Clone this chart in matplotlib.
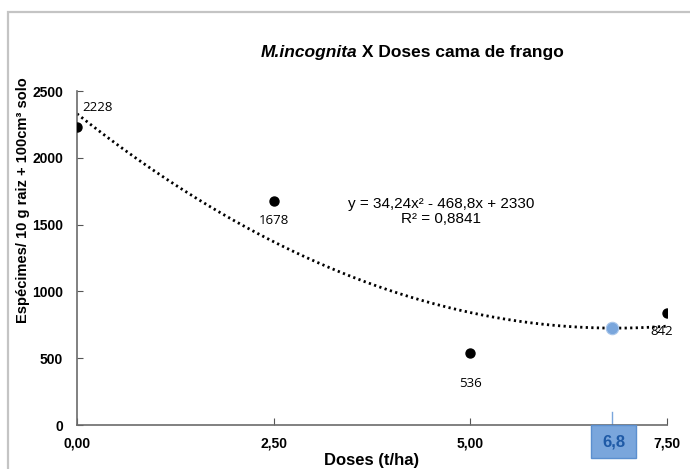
import matplotlib
matplotlib.use("Agg")
import matplotlib.pyplot as plt
import matplotlib.transforms as mtransforms
from matplotlib.patches import Rectangle
import numpy as np

plt.rcParams.update({
    "font.family": ["Liberation Sans", "DejaVu Sans"],
    "figure.facecolor": "white",
})

# ── 数据 ──
doses = [0.0, 2.5, 5.0, 7.5]
counts = [2228, 1678, 536, 842]
point_labels = ["2228", "1678", "536", "842"]
xtick_vals = [0.0, 2.5, 5.0, 7.5]
xtick_labels = ["0,00", "2,50", "5,00", "7,50"]
ytick_vals = [0, 500, 1000, 1500, 2000, 2500]

# 趋势线 y = 34,24x² - 468,8x + 2330
coef = [34.24, -468.8, 2330]
highlight_x = 6.8

fig = plt.figure(figsize=(6.9, 4.69), dpi=100)
ax = fig.add_axes([0.1116, 0.0938, 0.855, 0.712])

# 外框
fig.patches.append(Rectangle((8 / 690, -0.02), 1.0, 1 - 12 / 469 + 0.02,
                             transform=fig.transFigure, fill=False,
                             edgecolor="#c4c4c4", linewidth=1.6))

xs = np.linspace(0, 7.5, 200)
ax.plot(xs, np.polyval(coef, xs), color="black", linewidth=2,
        linestyle=(0, (0.8, 1.2)), zorder=2)

ax.scatter(doses, counts, s=42, color="black", zorder=3)
ax.scatter([highlight_x], [np.polyval(coef, highlight_x)], s=80,
           color="#7aa6dc", edgecolor="#a9c6ea", linewidth=0.8, zorder=4)

# 数据标签
offsets = [(4, 14), (0, -14), (0, -22), (-4, -14)]
has = ["left", "center", "center", "center"]
for x, y, lab, off, ha in zip(doses, counts, point_labels, offsets, has):
    ax.annotate(lab, (x, y), xytext=off, textcoords="offset points",
                ha=ha, va="center", fontsize=9.5, family="Open Sans")

ax.text(0.617, 0.64, "y = 34,24x² - 468,8x + 2330\nR² = 0,8841",
        transform=ax.transAxes, ha="center", va="center", fontsize=11,
        linespacing=1.05)

ax.set_xlim(0, 7.5)
ax.set_ylim(0, 2500)
ax.set_xticks(xtick_vals)
ax.set_xticklabels(xtick_labels, fontweight="bold", fontsize=10)
ax.set_yticks(ytick_vals)
ax.set_yticklabels([str(v) for v in ytick_vals], fontweight="bold", fontsize=10)
ax.tick_params(axis="x", direction="in", length=5, pad=8, color="#555555")
ax.tick_params(axis="y", direction="in", length=4, pad=10, color="#555555")
for s in ["top", "right"]:
    ax.spines[s].set_visible(False)
for s in ["left", "bottom"]:
    ax.spines[s].set_color("#6b6b6b")
    ax.spines[s].set_linewidth(1.2)

ax.set_xlabel("Doses (t/ha)", fontweight="bold", fontsize=12)
ax.xaxis.set_label_coords(0.5, -0.105)
ax.xaxis.label.set_va("center")
ax.set_ylabel("Espécimes/ 10 g raiz + 100cm³ solo", fontweight="bold",
              fontsize=10.5)
ax.yaxis.set_label_coords(-0.0915, 0.674)
ax.yaxis.label.set_va("center")

# 标题（斜体 + 常规）
fig.text(357 / 690, 1 - 52 / 469, "M.incognita", ha="right", va="center",
         fontsize=12.5, fontweight="bold", style="italic")
fig.text(357 / 690, 1 - 52 / 469, " X Doses cama de frango", ha="left",
         va="center", fontsize=12.5, fontweight="bold")

# 6,8 标记框
trans = mtransforms.blended_transform_factory(ax.transData, ax.transAxes)
ax.plot([highlight_x, highlight_x], [0, 0.04], color="#7aa6dc", linewidth=1,
        transform=trans, clip_on=False)
ax.add_patch(Rectangle((highlight_x - 0.26, -0.1), 0.57, 0.1,
                       transform=trans, clip_on=False, facecolor="#7aa6dc",
                       edgecolor="#5b8fcf", linewidth=1, zorder=5))
ax.text(highlight_x + 0.025, -0.05, "6,8", transform=trans, ha="center",
        va="center", fontsize=12, fontweight="bold", color="#1f5aa6", zorder=6)

fig.savefig("out.png", dpi=100)
